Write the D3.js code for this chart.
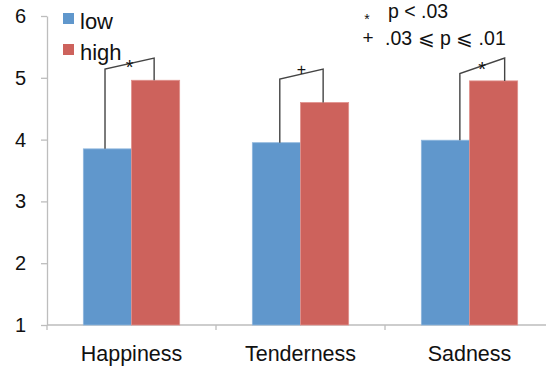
<!DOCTYPE html>
<meta charset="utf-8">
<style>
  body { margin: 0; background: #fff; }
  text { font-family: "Liberation Sans", Arial, sans-serif; fill: #111; }
  .axis path, .axis line { stroke: #bdbdbd; stroke-width: 1.3; }
</style>
<body>
<script src="https://d3js.org/d3.v7.min.js"></script>
<script>
var categories = ["Happiness", "Tenderness", "Sadness"];
var series = ["low", "high"];
var lowValues = [3.85, 3.95, 3.99];
var highValues = [4.96, 4.60, 4.95];
var sigMarks = ["*", "+", "*"];
var bracketLeftTop = [5.14, 4.98, 5.07];
var bracketRightTop = [5.32, 5.14, 5.32];
var yTicks = [1, 2, 3, 4, 5, 6];
var sigLegend = [["*", "p < .03"], ["+", ".03 \u2A7D p \u2A7D .01"]];

var colors = { low: "#6097cc", high: "#cd625c" };

var width = 546, height = 368;
var margin = { left: 47, right: -8, top: 16, bottom: 43 };

var svg = d3.select("body").append("svg")
    .attr("width", width)
    .attr("height", height);

var x0 = d3.scaleBand()
    .domain(categories)
    .range([margin.left, width - margin.right])
    .paddingInner(0.43)
    .paddingOuter(0.215);

var x1 = d3.scaleBand()
    .domain(series)
    .range([0, x0.bandwidth()]);

var y = d3.scaleLinear()
    .domain([1, 6])
    .range([height - margin.bottom, margin.top]);

var data = categories.map(function(c, i) {
  return { cat: c, low: lowValues[i], high: highValues[i], mark: sigMarks[i],
           lt: bracketLeftTop[i], rt: bracketRightTop[i] };
});

// axes
var step = x0.step();
var xAxisG = svg.append("g").attr("class", "axis");
xAxisG.append("line")
    .attr("x1", margin.left).attr("x2", width)
    .attr("y1", y(1)).attr("y2", y(1));
xAxisG.selectAll(".xt")
    .data(d3.range(categories.length))
    .enter().append("line")
    .attr("x1", function(i) { return margin.left + i * step; })
    .attr("x2", function(i) { return margin.left + i * step; })
    .attr("y1", y(1)).attr("y2", y(1) + 5);

svg.append("g")
    .attr("class", "axis")
    .attr("transform", "translate(" + margin.left + ",0)")
    .call(d3.axisLeft(y).tickValues(yTicks).tickFormat(d3.format("d"))
      .tickSize(6).tickSizeOuter(0).tickPadding(15))
    .call(function(g) {
      g.selectAll("text").style("font-size", "20px").attr("fill", "#111");
    });

svg.append("g").selectAll("text")
    .data(categories)
    .enter().append("text")
    .attr("x", function(d) { return x0(d) + x0.bandwidth() / 2; })
    .attr("y", 361)
    .attr("text-anchor", "middle")
    .style("font-size", "21.5px")
    .text(function(d) { return d; });

// bars
var groups = svg.append("g").selectAll("g")
    .data(data)
    .enter().append("g")
    .attr("transform", function(d) { return "translate(" + x0(d.cat) + ",0)"; });

groups.selectAll("rect")
    .data(function(d) { return series.map(function(s) { return { key: s, value: d[s] }; }); })
    .enter().append("rect")
    .attr("x", function(d) { return x1(d.key); })
    .attr("width", x1.bandwidth())
    .attr("y", function(d) { return y(d.value); })
    .attr("height", function(d) { return y(1) - y(d.value); })
    .attr("fill", function(d) { return colors[d.key]; })
    .attr("stroke", function(d) { return d.key === "low" ? "#8fb6dd" : "#e0918c"; })
    .attr("stroke-width", 0.8);

// significance brackets (where along each bar the bracket legs sit)
var legPos = [[0.45, 0.47], [0.57, 0.47], [0.80, 0.73]];
groups.each(function(d, i) {
  var g = d3.select(this);
  var bw = x1.bandwidth();
  var xl = x1("low") + legPos[i][0] * bw;
  var xr = x1("high") + legPos[i][1] * bw;
  g.append("path")
      .attr("d", "M" + xl + "," + y(d.low) + "L" + xl + "," + y(d.lt) +
                 "L" + xr + "," + y(d.rt) + "L" + xr + "," + y(d.high))
      .attr("fill", "none")
      .attr("stroke", "#444")
      .attr("stroke-width", 1.4);
  var mx = (xl + xr) / 2, my = (y(d.lt) + y(d.rt)) / 2;
  g.append("text")
      .attr("x", mx)
      .attr("y", d.mark === "*" ? my + 10 : my + 1)
      .attr("text-anchor", "middle")
      .style("font-size", d.mark === "*" ? "20px" : "16px")
      .attr("fill", "#444")
      .text(d.mark);
});

// series legend
var leg = svg.append("g").selectAll("g")
    .data(series)
    .enter().append("g")
    .attr("transform", function(d, i) { return "translate(63," + (13 + i * 31) + ")"; });
leg.append("rect")
    .attr("width", 11).attr("height", 11)
    .attr("fill", function(d) { return colors[d]; });
leg.append("text")
    .attr("x", 17).attr("y", 16)
    .style("font-size", "22px")
    .text(function(d) { return d; });

// significance legend
var sl = svg.append("g").selectAll("g")
    .data(sigLegend)
    .enter().append("g")
    .attr("transform", function(d, i) { return "translate(0," + (18 + i * 27) + ")"; });
sl.append("text")
    .attr("x", function(d) { return d[0] === "*" ? 367 : 368; })
    .attr("y", function(d) { return d[0] === "*" ? 6 : -1; })
    .attr("text-anchor", "middle")
    .style("font-size", function(d) { return d[0] === "*" ? "14px" : "19px"; })
    .text(function(d) { return d[0]; });
sl.append("text")
    .attr("x", function(d) { return d[0] === "*" ? 388 : 385; })
    .attr("y", 0)
    .style("font-size", "19.5px")
    .text(function(d) { return d[1]; });
</script>
</body>
